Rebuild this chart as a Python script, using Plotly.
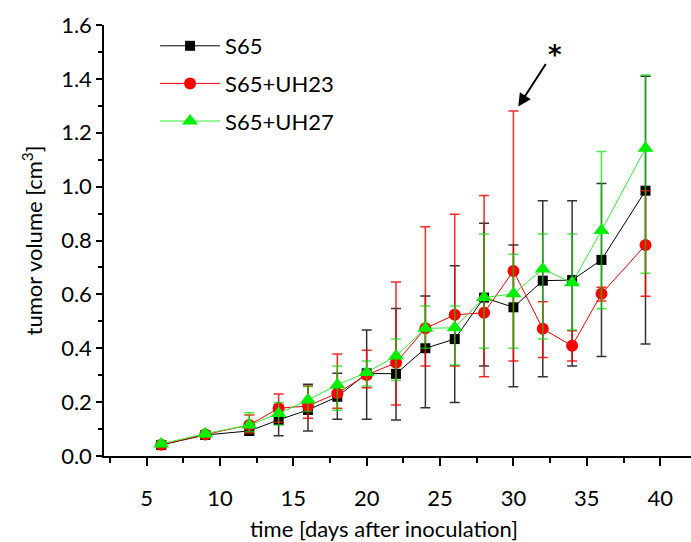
import plotly.graph_objects as go

days = [6, 9, 12, 14, 16, 18, 20, 22, 24, 26, 28, 30, 32, 34, 36, 39]

s65_mean = [0.041, 0.078, 0.093, 0.134, 0.171, 0.220, 0.307, 0.305, 0.400, 0.434, 0.588, 0.552, 0.651, 0.653, 0.728, 0.985]
s65_upper = [0.055, 0.092, 0.110, 0.190, 0.266, 0.307, 0.468, 0.548, 0.594, 0.706, 0.864, 0.783, 0.948, 0.948, 1.012, 1.410]
s65_lower = [0.028, 0.065, 0.078, 0.075, 0.093, 0.136, 0.136, 0.134, 0.179, 0.199, 0.334, 0.257, 0.294, 0.334, 0.369, 0.416]

uh23_mean = [0.042, 0.080, 0.115, 0.177, 0.186, 0.233, 0.301, 0.346, 0.474, 0.524, 0.532, 0.687, 0.472, 0.409, 0.602, 0.783]
uh23_upper = [0.050, 0.090, 0.152, 0.230, 0.260, 0.379, 0.393, 0.646, 0.851, 0.897, 0.967, 1.281, 0.573, 0.465, 0.626, 0.985]
uh23_lower = [0.033, 0.070, 0.085, 0.125, 0.140, 0.177, 0.253, 0.189, 0.334, 0.334, 0.294, 0.353, 0.366, 0.353, 0.575, 0.593]

uh27_mean = [0.045, 0.083, 0.115, 0.158, 0.208, 0.264, 0.310, 0.371, 0.474, 0.476, 0.588, 0.602, 0.694, 0.643, 0.837, 1.142]
uh27_upper = [0.055, 0.092, 0.161, 0.199, 0.258, 0.334, 0.353, 0.434, 0.557, 0.557, 0.824, 0.749, 0.824, 0.824, 1.130, 1.414]
uh27_lower = [0.035, 0.070, 0.090, 0.115, 0.165, 0.170, 0.260, 0.280, 0.400, 0.338, 0.400, 0.400, 0.434, 0.468, 0.547, 0.678]

series = [
    ("S65", s65_mean, s65_upper, s65_lower, "black", "black", "rgba(0,0,0,0.8)", "square", 10),
    ("S65+UH23", uh23_mean, uh23_upper, uh23_lower, "#ff0000", "#ff0000", "rgba(255,0,0,0.85)", "circle", 12),
    ("S65+UH27", uh27_mean, uh27_upper, uh27_lower, "#33ee33", "#00ee00", "rgba(0,220,0,0.7)", "triangle-up", 14),
]

FONT = "Lato"

fig = go.Figure()
for name, mean, up, lo, lcol, mcol, ecol, sym, msz in series:
    plus = [u - m for u, m in zip(up, mean)]
    minus = [m - l for m, l in zip(mean, lo)]
    fig.add_trace(go.Scatter(
        x=days, y=mean, name=name, mode="lines+markers",
        legendgroup=name,
        line=dict(color=lcol, width=1),
        marker=dict(color=mcol, symbol=sym, size=msz, line=dict(width=0)),
        error_y=dict(type="data", symmetric=False, array=plus, arrayminus=minus,
                     color=ecol, thickness=1.5, width=5),
        cliponaxis=False,
    ))

fig.add_annotation(x=30.33, y=1.297, ax=32.27, ay=1.461, xref="x", yref="y",
                   axref="x", ayref="y", text="", showarrow=True,
                   arrowhead=2, arrowsize=1.3, arrowwidth=2, arrowcolor="black")
fig.add_annotation(x=32.8, y=1.49, xref="x", yref="y", text="<b>*</b>", showarrow=False,
                   font=dict(family="DejaVu Sans", size=26, color="black"))

fig.add_annotation(x=(384 - 104) / 587, y=-(528 - 456) / 431, xref="paper", yref="paper",
                   xanchor="center", yanchor="middle", text="time [days after inoculation]",
                   showarrow=False, font=dict(family=FONT, size=22, color="black"))

fig.update_layout(
    width=691, height=542,
    margin=dict(l=104, r=0, t=25, b=86),
    paper_bgcolor="white", plot_bgcolor="white",
    font=dict(family=FONT, size=22, color="black"),
    showlegend=True,
    legend=dict(x=0.087, y=1.0, xanchor="left", yanchor="top", bgcolor="rgba(0,0,0,0)",
                font=dict(family=FONT, size=22), itemwidth=60, tracegroupgap=6,
                traceorder="grouped"),
    xaxis=dict(range=[2.1, 42.1], tickmode="linear", tick0=5, dtick=5,
               showgrid=False, zeroline=False, showline=True, linecolor="black", linewidth=1.5,
               ticks="outside", ticklen=8, tickwidth=1.5, tickcolor="black",
               ticklabelstandoff=14,
               minor=dict(ticks="outside", ticklen=5, tickwidth=1.5, tickcolor="black", dtick=2.5, tick0=2.5),
               tickfont=dict(family=FONT, size=22)),
    yaxis=dict(range=[0, 1.6], tickmode="linear", tick0=0, dtick=0.2, tickformat=".1f",
               showgrid=False, zeroline=False, showline=True, linecolor="black", linewidth=1.5,
               ticks="outside", ticklen=6, tickwidth=1.5, tickcolor="black",
               minor=dict(ticks="outside", ticklen=4, tickwidth=1.5, tickcolor="black", dtick=0.1),
               tickfont=dict(family=FONT, size=22),
               title=dict(text="tumor volume [cm<sup>3</sup>]", font=dict(family=FONT, size=22), standoff=12)),
)

fig.write_html("out.html")
